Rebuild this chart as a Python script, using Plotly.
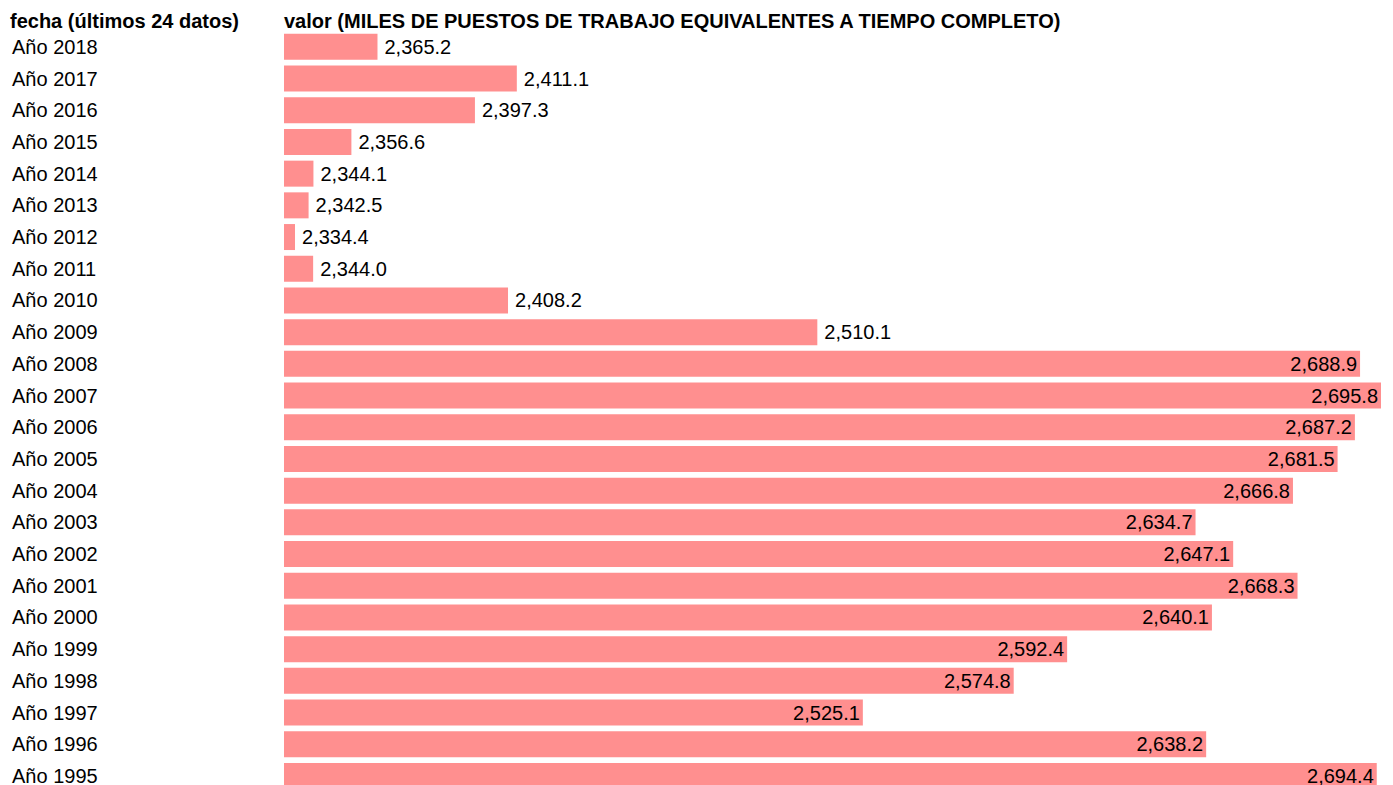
import plotly.graph_objects as go

categories = ["Año 2018", "Año 2017", "Año 2016", "Año 2015", "Año 2014", "Año 2013",
              "Año 2012", "Año 2011", "Año 2010", "Año 2009", "Año 2008", "Año 2007",
              "Año 2006", "Año 2005", "Año 2004", "Año 2003", "Año 2002", "Año 2001",
              "Año 2000", "Año 1999", "Año 1998", "Año 1997", "Año 1996", "Año 1995"]
values = [2365.2, 2411.1, 2397.3, 2356.6, 2344.1, 2342.5, 2334.4, 2344.0, 2408.2, 2510.1,
          2688.9, 2695.8, 2687.2, 2681.5, 2666.8, 2634.7, 2647.1, 2668.3, 2640.1, 2592.4,
          2574.8, 2525.1, 2638.2, 2694.4]
header_left = "fecha (últimos 24 datos)"
header_right = "valor (MILES DE PUESTOS DE TRABAJO EQUIVALENTES A TIEMPO COMPLETO)"

W, H = 1393, 785
ML, MR, MT, MB = 284, 12, 31, 0
plot_w = W - ML - MR
plot_h = H - MT - MB

lo, hi = min(values), max(values)
mid = (lo + hi) / 2
min_len = (hi - lo) * 11 / plot_w  # renderer keeps a minimum visible bar width
lengths = [max(v - lo, min_len) for v in values]
positions = ["inside" if v > mid else "outside" for v in values]
labels = [("" if p == "inside" else "\u2009") + f"{v:,.1f}" for v, p in zip(values, positions)]

FONT = "Liberation Sans, Arial, sans-serif"
fig = go.Figure(go.Bar(
    y=categories, x=lengths, base=lo, orientation="h",
    marker=dict(color="#ff8f8f", line=dict(width=0)),
    text=labels, textposition=positions, insidetextanchor="end",
    textfont=dict(family=FONT, size=20, color="#000000"),
    insidetextfont=dict(family=FONT, size=20, color="#000000"),
    outsidetextfont=dict(family=FONT, size=20, color="#000000"),
    constraintext="none", cliponaxis=False, hoverinfo="skip",
))

rows_visible = plot_h / 31.7
fig.update_yaxes(type="category", categoryorder="array", categoryarray=categories,
                 range=[-0.5 + rows_visible, -0.5], showticklabels=False,
                 showgrid=False, zeroline=False, showline=False, ticks="")
fig.update_xaxes(range=[lo, hi], visible=False, showgrid=False, zeroline=False)

label_x = (10 - ML) / plot_w
annotations = []
for c in categories:
    annotations.append(dict(x=label_x, y=c, xref="paper", yref="y", text=c,
                            showarrow=False, xanchor="left", yanchor="middle",
                            font=dict(family=FONT, size=20, color="#000000")))
head_y = 1 + (MT - 21) / plot_h
annotations.append(dict(x=(8 - ML) / plot_w, y=head_y, xref="paper", yref="paper",
                        text=f"<b>{header_left}</b>", showarrow=False, xanchor="left",
                        yanchor="middle", font=dict(family=FONT, size=20, color="#000000")))
annotations.append(dict(x=-2 / plot_w, y=head_y, xref="paper", yref="paper",
                        text=f"<b>{header_right}</b>", showarrow=False, xanchor="left",
                        yanchor="middle", font=dict(family=FONT, size=20, color="#000000")))

fig.update_layout(width=W, height=H, margin=dict(l=ML, r=MR, t=MT, b=MB),
                  bargap=0.18, plot_bgcolor="white", paper_bgcolor="white",
                  showlegend=False, annotations=annotations)
fig.write_html("out.html", config={"displayModeBar": False},
               post_script="document.body.style.margin='0px';document.body.style.overflow='hidden';")
